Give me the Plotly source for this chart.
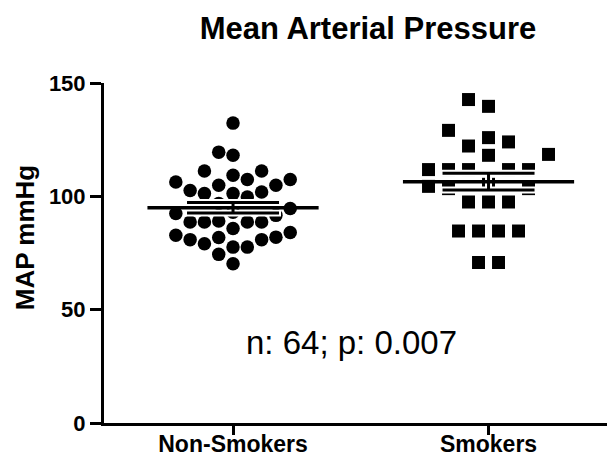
import numpy as np
import plotly.graph_objects as go

# ---------------- data ----------------
categories = ["Non-Smokers", "Smokers"]
non_smokers = [132.3, 119.5, 118.1, 111.2, 109.3, 111.2, 107.4, 106.3, 104.9, 107.4,
               104.9, 102.6, 101.9, 101.2, 99.7, 101.2, 96.8, 94.6, 92.4, 91.6,
               93.0, 88.7, 88.7, 88.7, 88.7, 89.1, 85.8, 84.0, 82.8, 81.8,
               80.9, 79.1, 80.9, 82.0, 77.6, 77.6, 74.4, 70.3]
smokers = [142.7, 139.7, 129.1, 125.9, 122.2, 124.0, 118.1, 118.5,
           111.8, 111.8, 111.8, 111.8, 111.8, 105.3, 104.4, 103.4, 103.4,
           97.5, 97.5, 97.5, 84.7, 84.7, 84.7, 84.7, 70.8, 70.8]
y_ticks = [0, 50, 100, 150]
title_text = "Mean Arterial Pressure"
y_title = "MAP mmHg"
stat_text = "n: 64; p: 0.007"

# ---------------- layout constants ----------------
# the page body keeps its default 8px margin, so the figure is 8px smaller
W, H = 607, 449
ML, MR, MT, MB = 96, 0, 75, 34
X_RANGE = [-0.505, 1.495]
Y_RANGE = [0, 150]
PW = W - ML - MR
px_per_x = PW / (X_RANGE[1] - X_RANGE[0])
px_per_y = (H - MT - MB) / (Y_RANGE[1] - Y_RANGE[0])


def swarm(values, dx, dy):
    """Greedy dot-plot spreading in pixel space; returns offsets in axis units."""
    order = sorted(range(len(values)), key=lambda i: values[i])
    cands = [0.0]
    for k in range(1, 60):
        cands += [-k * dx / 2, k * dx / 2]
    placed, offs = [], [0.0] * len(values)
    for i in order:
        y = values[i] * px_per_y
        for c in cands:
            if all(not (abs(c - px) < dx - 1e-6 and abs(y - py) < dy) for px, py in placed):
                offs[i] = c
                placed.append((c, y))
                break
    # centre groups of identical values when it does not create overlaps
    vals = np.array(values)
    for v in np.unique(vals):
        idx = np.where(vals == v)[0]
        if len(idx) < 2:
            continue
        shift = -np.mean([offs[j] for j in idx])
        others = [(offs[j], values[j] * px_per_y) for j in range(len(values)) if j not in idx]
        ok = all(not (abs(offs[j] + shift - px) < dx - 1e-6 and abs(values[j] * px_per_y - py) < dy)
                 for j in idx for px, py in others)
        if ok:
            for j in idx:
                offs[j] += shift
    return [o / px_per_x for o in offs]


groups = [non_smokers, smokers]
symbols = ["circle", "square"]
spacing_x = [14.3, 20]
spacing_y = [16, 16]
FONT = "Liberation Sans, Arial, sans-serif"

fig = go.Figure()

for gi, (vals, sym, sx, sy) in enumerate(zip(groups, symbols, spacing_x, spacing_y)):
    offs = swarm(vals, sx, sy)
    fig.add_trace(go.Scatter(
        x=[gi + o for o in offs], y=vals, mode="markers",
        marker=dict(symbol=sym, size=13.5 if sym == "circle" else 13, color="black", line=dict(width=0)),
        showlegend=False, hoverinfo="y", cliponaxis=False))

for gi, vals in enumerate(groups):
    arr = np.array(vals)
    m = arr.mean()
    sem = arr.std(ddof=1) / np.sqrt(len(arr))
    fig.add_trace(go.Scatter(
        x=[gi], y=[m], mode="markers", marker=dict(size=0.1, color="rgba(0,0,0,0)"),
        error_y=dict(type="data", array=[sem], color="white", thickness=7, width=48),
        showlegend=False, hoverinfo="skip"))
    fig.add_trace(go.Scatter(
        x=[gi], y=[m], mode="markers", marker=dict(size=0.1, color="rgba(0,0,0,0)"),
        error_y=dict(type="data", array=[sem], color="black", thickness=3, width=46),
        showlegend=False, hoverinfo="skip"))
    fig.add_trace(go.Scatter(
        x=[gi - 0.335, gi + 0.335], y=[m, m], mode="lines",
        line=dict(color="black", width=3.5), showlegend=False, hoverinfo="y"))

fig.add_annotation(x=0.465, y=35.7, xref="x", yref="y", text=stat_text, showarrow=False,
                   font=dict(family=FONT, size=33, color="black"))
fig.add_annotation(x=(17 - ML) / PW, y=81.5, xref="paper", yref="y", text=y_title, showarrow=False,
                   textangle=-90, xanchor="center", yanchor="middle",
                   font=dict(family=FONT, size=26, color="black", weight="bold"))

fig.update_layout(
    width=W, height=H,
    margin=dict(l=ML, r=MR, t=MT, b=MB, pad=0, autoexpand=False),
    plot_bgcolor="white", paper_bgcolor="white",
    title=dict(text=title_text, x=360 / W, xanchor="center", y=1 - 20 / H, yanchor="middle",
               automargin=False,
               font=dict(family=FONT, size=31, color="black", weight="bold")),
    xaxis=dict(range=X_RANGE, tickmode="array", tickvals=[0, 1], ticktext=categories,
               automargin=False,
               showgrid=False, zeroline=False, showline=True, linecolor="black", linewidth=3,
               ticks="outside", ticklen=9, tickwidth=3, tickcolor="black",
               ticklabelstandoff=-11,
               tickfont=dict(family=FONT, size=23, color="black", weight="bold")),
    yaxis=dict(range=Y_RANGE, tickmode="array", tickvals=y_ticks,
               automargin=False,
               showgrid=False, zeroline=False, showline=True, linecolor="black", linewidth=3,
               ticks="outside", ticklen=11, tickwidth=3, tickcolor="black",
               tickfont=dict(family=FONT, size=22, color="black", weight="bold")),
)

fig.write_html("out.html")
